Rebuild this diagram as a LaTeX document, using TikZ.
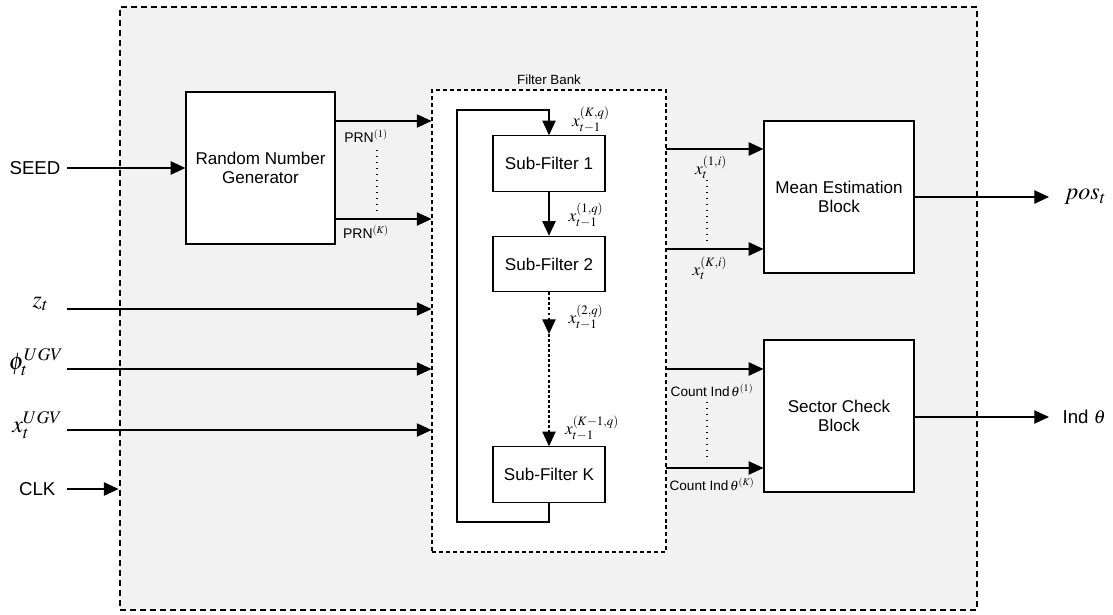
\documentclass[tikz,border=0pt]{standalone}
\usepackage{mathptmx}
\usepackage{fontspec}
\setmainfont{Liberation Sans}
\usetikzlibrary{arrows.meta}
\definecolor{bggray}{HTML}{F2F2F2}
\begin{document}
\begin{tikzpicture}[x=0.75pt,y=-0.75pt,
  line width=0.9pt,
  >={Triangle[length=11pt,width=10pt]},
  blk/.style={draw=black, fill=white, line width=0.9pt, align=center, font=\fontsize{12.8}{14.5}\selectfont, inner sep=0pt},
  sub/.style={blk, minimum width=84pt, minimum height=41.5pt},
  bigblk/.style={blk, minimum width=112.5pt, minimum height=114pt},
  lbl/.style={inner sep=0pt, font=\fontsize{10.5}{12}\selectfont},
  mlbl/.style={inner sep=0pt, font=\fontsize{13}{14}\selectfont},
  inlbl/.style={inner sep=0pt, font=\fontsize{18}{20}\selectfont},
  txtlbl/.style={inner sep=0pt, font=\fontsize{14}{16}\selectfont},
  dotline/.style={line width=1pt, dash pattern=on 0.9pt off 3.6pt},
  dashline/.style={dash pattern=on 2.2pt off 1.6pt}
]
\useasboundingbox (0,0) rectangle (1113,614);

% outer container
\node[draw=black, fill=bggray, line width=2.1pt, dash pattern=on 4.5pt off 3pt,
      minimum width=642.75pt, minimum height=452.25pt, inner sep=0pt] (outer) at (548.5,308.5) {};

% filter bank container
\node[draw=black, fill=white, line width=0.8pt, dash pattern=on 3pt off 2.2pt,
      minimum width=175.5pt, minimum height=346.5pt, inner sep=0pt] (fb) at (549,321) {};
\node[lbl, font=\fontsize{10}{12}\selectfont] (fbl) at (549,80) {Filter Bank};

% blocks
\node[bigblk, minimum width=111.75pt] (rng) at (260.5,168) {Random Number\\Generator};
\node[sub] (sf1) at (549,163.5) {Sub-Filter 1};
\node[sub] (sf2) at (549,264) {Sub-Filter 2};
\node[sub] (sfk) at (549,474.5) {Sub-Filter K};
\node[bigblk] (meb) at (839,197) {Mean Estimation\\Block};
\node[bigblk] (scb) at (839,416) {Sector Check\\Block};

% left inputs
\node[txtlbl, anchor=east] (seed) at (61,168) {SEED};
\coordinate (seeds) at (67,168);
\draw[->] (seeds) -- (rng.west);

\node[inlbl, anchor=east] (zt) at (49,304) {$z_t$};
\coordinate (zts) at (67,309);
\draw[->] (zts) -- (zts -| fb.west);

\node[inlbl, anchor=east] (phit) at (64,362) {$\phi_t^{UGV}$};
\coordinate (phis) at (67,369);
\draw[->] (phis) -- (phis -| fb.west);

\node[inlbl, anchor=east] (xt) at (63,425) {$x_t^{UGV}$};
\coordinate (xts) at (67,430);
\draw[->] (xts) -- (xts -| fb.west);

\node[txtlbl, anchor=east] (clk) at (56,489) {CLK};
\coordinate (clks) at (67,489);
\draw[->] (clks) -- (clks -| outer.west);

% PRN outputs
\coordinate (prn1) at (335,121);
\coordinate (prnk) at (335,219);
\draw[->] (prn1) -- (prn1 -| fb.west);
\draw[->] (prnk) -- (prnk -| fb.west);
\node[lbl] (prn1l) at (366,136) {PRN$^{(1)}$};
\node[lbl] (prnkl) at (366,232) {PRN$^{(K)}$};
\coordinate (prnd1) at (377,150);
\coordinate (prnd2) at (377,212);
\draw[dotline] (prnd1) -- (prnd2);

% sub-filter chain
\coordinate (lb) at (457,522);
\coordinate (lt) at (457,110);
\draw[->] (sfk.south) |- (lb) -- (lt) -| (sf1.north);
\draw[->] (sf1.south) -- (sf2.north);
\coordinate (mid) at (549,334);
\draw[->, dashline] (sf2.south) -- (mid);
\draw[->, dashline] (mid) -- (sfk.north);

\node[mlbl] (lkq) at (591,120) {$x_{t-1}^{(K,q)}$};
\node[mlbl] (l1q) at (586,215) {$x_{t-1}^{(1,q)}$};
\node[mlbl] (l2q) at (586,317) {$x_{t-1}^{(2,q)}$};
\node[mlbl] (lk1q) at (592,428) {$x_{t-1}^{(K-1,q)}$};

% filter bank -> mean estimation
\coordinate (x1s) at (666,149);
\coordinate (xks) at (666,249);
\draw[->] (x1s) -- (x1s -| meb.west);
\draw[->] (xks) -- (xks -| meb.west);
\node[mlbl] (x1l) at (711,167) {$x_t^{(1,i)}$};
\node[mlbl] (xkl) at (710,268) {$x_t^{(K,i)}$};
\coordinate (xd1) at (707,180);
\coordinate (xd2) at (707,242);
\draw[dotline] (xd1) -- (xd2);

% filter bank -> sector check
\coordinate (c1s) at (666,369);
\coordinate (cks) at (666,468);
\draw[->] (c1s) -- (c1s -| scb.west);
\draw[->] (cks) -- (cks -| scb.west);
\node[lbl, font=\fontsize{10.2}{11}\selectfont] (c1l) at (712,390) {Count Ind$\,\theta^{(1)}$};
\node[lbl, font=\fontsize{10.2}{11}\selectfont] (ckl) at (712,484) {Count Ind$\,\theta^{(K)}$};
\coordinate (cd1) at (707,402);
\coordinate (cd2) at (707,462);
\draw[dotline] (cd1) -- (cd2);

% outputs
\node[inlbl, anchor=west] (pos) at (1064,197) {$pos_t$};
\node[txtlbl, anchor=west] (ind) at (1062,417) {Ind $\theta$};
\coordinate (pose) at (1049,197);
\coordinate (inde) at (1049,417);
\draw[->] (meb.east) -- (pose);
\draw[->] (scb.east |- inde) -- (inde);
\end{tikzpicture}
\end{document}
